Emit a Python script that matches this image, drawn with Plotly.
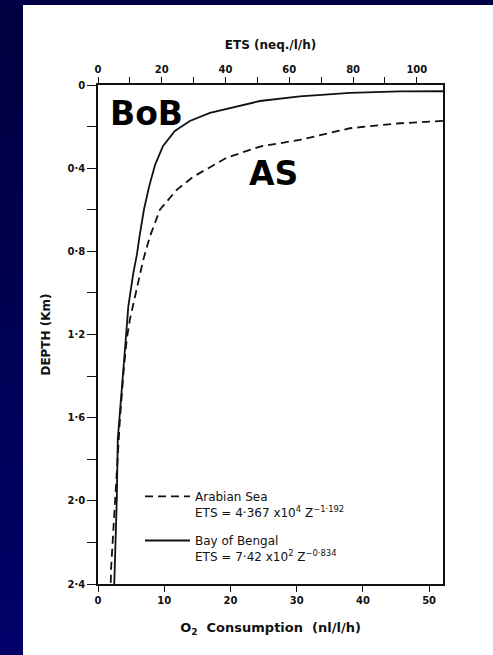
import plotly.graph_objects as go

# Depth profiles of ETS activity (top axis, neq./l/h) against depth (km)
as_depth = [0.173, 0.184, 0.208, 0.264, 0.296, 0.312, 0.350, 0.442, 0.504, 0.600,
            0.728, 0.840, 0.984, 1.128, 1.224, 1.382, 1.603, 1.800, 2.000, 2.208,
            2.328, 2.400]
as_ets = [108.2, 94.7, 79.0, 63.3, 50.8, 47.6, 40.3, 29.8, 24.7, 19.4,
          16.3, 14.2, 12.1, 10.0, 9.0, 8.0, 6.9, 6.1, 5.3, 4.5,
          4.1, 4.0]

bob_depth = [0.030, 0.031, 0.038, 0.055, 0.077, 0.110, 0.134, 0.173, 0.221, 0.293,
             0.384, 0.490, 0.600, 0.730, 0.816, 0.902, 1.066, 1.224, 1.382, 1.570,
             1.704, 1.992, 2.232, 2.400]
bob_ets = [108.2, 94.7, 79.0, 63.3, 50.8, 41.4, 35.1, 28.8, 24.1, 20.4,
           17.9, 16.0, 14.4, 13.0, 12.2, 11.1, 9.5, 8.7, 7.9, 6.9,
           6.2, 5.9, 5.3, 5.1]

depth_ticks = [0, 0.4, 0.8, 1.2, 1.6, 2.0, 2.4]
depth_labels = ["0", "0·4", "0·8", "1·2", "1·6", "2·0", "2·4"]
o2_ticks = [0, 10, 20, 30, 40, 50]
ets_ticks = [0, 20, 40, 60, 80, 100]

W, H = 493, 655
ML, MR, MT, MB = 98, 50, 85, 71
PW, PH = W - ML - MR, H - MT - MB

def px_x(p):
    return (p - ML) / PW

def px_y(p):
    return (H - MB - p) / PH

INK = "#111111"
FAM = "DejaVu Sans"
TICK_FONT = dict(family=FAM, size=10, color=INK, weight="bold")

fig = go.Figure()
# empty trace so the O2-consumption axis (bottom) gets its own subplot
fig.add_trace(go.Scatter(x=[], y=[], xaxis="x", yaxis="y", mode="lines",
                         showlegend=False, hoverinfo="skip"))
fig.add_trace(go.Scatter(
    x=as_ets, y=as_depth, xaxis="x2", yaxis="y", mode="lines",
    line=dict(color=INK, width=1.8, dash="8px,5px"), legendgroup="as",
    name="Arabian Sea<br>ETS = 4·367 x10<sup>4</sup> Z<sup>−1·192</sup>",
))
fig.add_trace(go.Scatter(
    x=bob_ets, y=bob_depth, xaxis="x2", yaxis="y", mode="lines",
    line=dict(color=INK, width=1.8), legendgroup="bob",
    name="Bay of Bengal<br>ETS = 7·42 x10<sup>2</sup> Z<sup>−0·834</sup>",
))

# Slide backdrop: navy frame with a white panel
shapes = []
steps = 24
for i in range(steps):
    t = i / (steps - 1)
    y0 = H * i / steps
    y1 = H * (i + 1) / steps
    shapes.append(dict(type="rect", xref="paper", yref="paper", layer="below",
                       x0=px_x(0), x1=px_x(24), y0=px_y(y1), y1=px_y(y0),
                       fillcolor=f"rgb(0,0,{int(64 + t * 40)})", line=dict(width=0)))
shapes.append(dict(type="rect", xref="paper", yref="paper", layer="below",
                   x0=px_x(0), x1=px_x(W), y0=px_y(6), y1=px_y(0),
                   fillcolor="rgb(0,0,70)", line=dict(width=0)))
shapes.append(dict(type="rect", xref="paper", yref="paper", layer="below",
                   x0=px_x(23), x1=px_x(W), y0=px_y(H), y1=px_y(5),
                   fillcolor="white", line=dict(width=0)))

axis_common = dict(showline=True, linecolor=INK, linewidth=1.6, showgrid=False,
                   zeroline=False, ticks="outside", tickwidth=1.4, tickcolor=INK,
                   tickfont=TICK_FONT)

fig.update_layout(
    width=W, height=H,
    margin=dict(l=ML, r=MR, t=MT, b=MB),
    paper_bgcolor="rgb(0,0,70)", plot_bgcolor="white",
    shapes=shapes,
    showlegend=True,
    legend=dict(x=px_x(140), y=px_y(482), xanchor="left", yanchor="top",
                bgcolor="rgba(0,0,0,0)", borderwidth=0, itemwidth=45,
                valign="top", tracegroupgap=10, traceorder="grouped",
                font=dict(family=FAM, size=12, color=INK)),
    xaxis=dict(
        range=[0, 52.1], anchor="y", side="bottom",
        tickvals=o2_ticks, ticklen=6,
        title=dict(text="<b>O<sub>2</sub>  Consumption  (nl/l/h)</b>", standoff=18,
                   font=dict(family=FAM, size=13, color=INK)),
        **axis_common,
    ),
    xaxis2=dict(
        range=[0, 108.2], anchor="y", overlaying="x", side="top",
        tickvals=ets_ticks, ticklen=6,
        minor=dict(tickvals=[10, 30, 50, 70, 90], ticks="outside", ticklen=6,
                   tickwidth=1.2, tickcolor=INK),
        title=dict(text="<b>ETS (neq./l/h)</b>", standoff=12,
                   font=dict(family=FAM, size=12, color=INK)),
        **axis_common,
    ),
    yaxis=dict(
        range=[2.4, 0], mirror=True,
        tickvals=depth_ticks, ticktext=depth_labels, ticklen=9,
        minor=dict(dtick=0.2, ticks="outside", ticklen=9, tickwidth=1.2, tickcolor=INK),
        title=dict(text="<b>DEPTH (Km)</b>", standoff=14,
                   font=dict(family=FAM, size=12, color=INK)),
        **axis_common,
    ),
    annotations=[
        dict(text="<b>BoB</b>", x=px_x(146), y=px_y(114), xref="paper", yref="paper",
             xanchor="center", yanchor="middle", showarrow=False,
             font=dict(family=FAM, size=33, color="black")),
        dict(text="<b>AS</b>", x=px_x(273), y=px_y(174), xref="paper", yref="paper",
             xanchor="center", yanchor="middle", showarrow=False,
             font=dict(family=FAM, size=33, color="black")),
    ],
)

fig.write_html("out.html")
